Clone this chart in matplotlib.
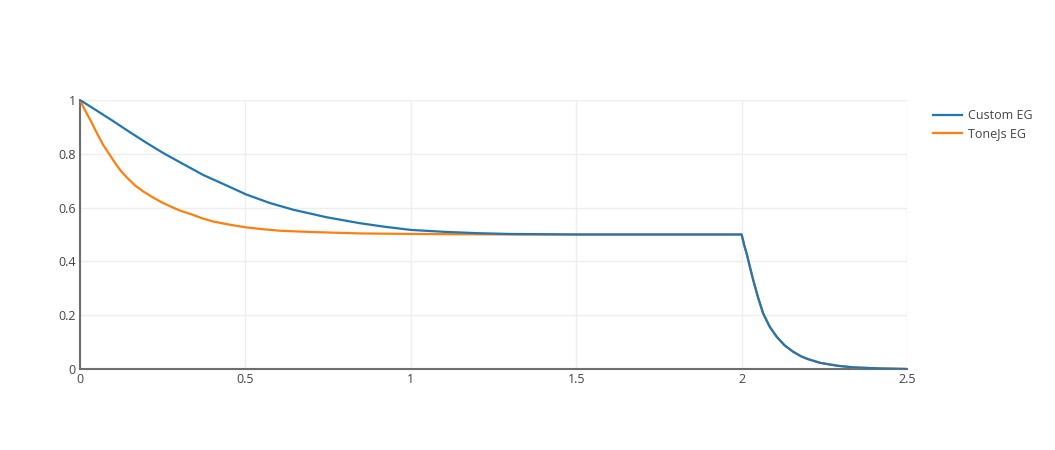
import matplotlib
matplotlib.use('Agg')
import matplotlib.pyplot as plt

# values
custom_t = [0, 0.05, 0.101, 0.15, 0.202, 0.25, 0.3, 0.373, 0.44, 0.502, 0.574, 0.645, 0.746, 0.846, 0.92,
            1.0, 1.1, 1.2, 1.3, 1.5, 2.0,
            2.008, 2.015, 2.025, 2.035, 2.05, 2.065, 2.085, 2.106, 2.13, 2.156, 2.18, 2.2, 2.237, 2.29, 2.338,
            2.42, 2.5]
custom_v = [1.0, 0.961, 0.921, 0.881, 0.840, 0.804, 0.770, 0.721, 0.684, 0.649, 0.617, 0.592, 0.564, 0.542, 0.529,
            0.517, 0.510, 0.505, 0.502, 0.5, 0.5,
            0.46, 0.43, 0.38, 0.331, 0.265, 0.207, 0.157, 0.12, 0.088, 0.064, 0.047, 0.037, 0.023, 0.012, 0.006,
            0.002, 0.0]

tone_t = [0, 0.015, 0.034, 0.054, 0.07, 0.09, 0.107, 0.125, 0.145, 0.165, 0.19, 0.216, 0.245, 0.276, 0.302,
          0.337, 0.37, 0.403, 0.45, 0.499, 0.55, 0.605, 0.705, 0.846, 1.0, 1.3, 2.0,
          2.008, 2.015, 2.025, 2.035, 2.05, 2.065, 2.085, 2.106, 2.13, 2.156, 2.18, 2.2, 2.237, 2.29, 2.338,
          2.42, 2.5]
tone_v = [1.0, 0.962, 0.919, 0.870, 0.833, 0.796, 0.764, 0.734, 0.708, 0.684, 0.661, 0.641, 0.621, 0.603, 0.589,
          0.575, 0.560, 0.548, 0.537, 0.527, 0.520, 0.514, 0.509, 0.504, 0.502, 0.5, 0.5,
          0.46, 0.43, 0.38, 0.331, 0.265, 0.207, 0.157, 0.12, 0.088, 0.064, 0.047, 0.037, 0.023, 0.012, 0.006,
          0.002, 0.0]

x_ticks = [0, 0.5, 1, 1.5, 2, 2.5]
x_labels = ['0', '0.5', '1', '1.5', '2', '2.5']
y_ticks = [0, 0.2, 0.4, 0.6, 0.8, 1]
y_labels = ['0', '0.2', '0.4', '0.6', '0.8', '1']

plt.rcParams['font.family'] = ['Open Sans', 'DejaVu Sans']

fig = plt.figure(figsize=(10.55, 4.5), dpi=100)
ax = fig.add_axes([80 / 1055, 81 / 450, 827 / 1055, 269 / 450])

ax.plot(tone_t, tone_v, color='#ff7f0e', lw=1.6, label='ToneJs EG', zorder=3, solid_joinstyle='round')
ax.plot(custom_t, custom_v, color='#1f77b4', lw=1.6, label='Custom EG', zorder=4, solid_joinstyle='round')

ax.set_xlim(0, 2.5)
ax.set_ylim(0, 1)
ax.set_xticks(x_ticks)
ax.set_xticklabels(x_labels)
ax.set_yticks(y_ticks)
ax.set_yticklabels(y_labels)
ax.grid(True, color='#eeeeee', lw=1)
ax.set_axisbelow(True)
for s in ['top', 'right']:
    ax.spines[s].set_visible(False)
for s in ['left', 'bottom']:
    ax.spines[s].set_color('#6e6e6e')
    ax.spines[s].set_linewidth(1.5)
ax.tick_params(length=0, labelsize=9, colors='#444444', pad=3)

handles, labels = ax.get_legend_handles_labels()
fig.legend(handles[::-1], labels[::-1], loc='upper left', bbox_to_anchor=(922 / 1055, 1 - 98 / 450),
           frameon=False, fontsize=9, handlelength=2.3, handletextpad=0.5, labelspacing=0.4,
           labelcolor='#444444')

fig.savefig('out.png', dpi=100)
